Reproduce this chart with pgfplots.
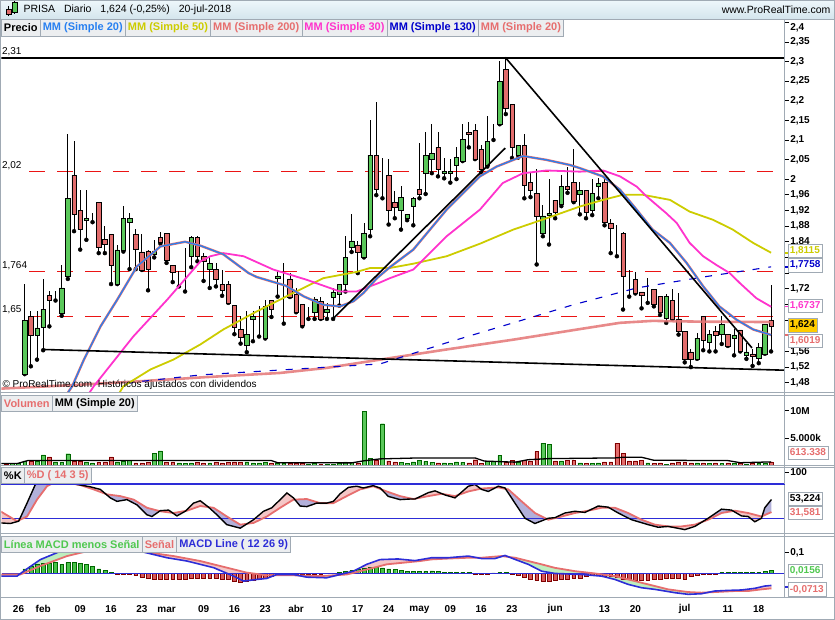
\documentclass[border=0pt]{standalone}
\usepackage{fontspec}
\setmainfont{Liberation Sans}
\usepackage{pgfplots}
\usepackage{pgfplotstable}
\pgfplotsset{compat=1.18}
\usepgfplotslibrary{fillbetween}

\definecolor{cgreen}{RGB}{90,200,90}
\definecolor{cred}{RGB}{226,108,108}
\definecolor{mm20}{RGB}{40,128,240}
\definecolor{mm50}{RGB}{204,204,0}
\definecolor{mm200}{RGB}{228,118,118}
\definecolor{mm30}{RGB}{255,51,204}
\definecolor{mm130}{RGB}{0,0,204}
\definecolor{salmon}{RGB}{230,110,110}
\definecolor{frame}{RGB}{160,170,180}
\definecolor{boxbg}{RGB}{236,238,240}
\definecolor{lav}{RGB}{178,176,218}
\definecolor{pinkf}{RGB}{244,198,198}
\definecolor{greenf}{RGB}{190,238,190}
\definecolor{hgreen}{RGB}{70,195,70}
\definecolor{hred}{RGB}{215,88,88}
\definecolor{stblue}{RGB}{45,45,215}
\definecolor{lvred}{RGB}{235,20,20}
\definecolor{hdtop}{RGB}{238,247,251}
\definecolor{hdbot}{RGB}{212,229,237}
\definecolor{legreen}{RGB}{80,200,80}
\definecolor{gold}{RGB}{255,204,0}

\newcommand{\lab}{\fontsize{10}{11}\selectfont\bfseries}
\newcommand{\leg}{\fontsize{11}{12}\selectfont\bfseries}

% daily candles, n = trading day after 26 Jan 2018
\pgfplotstableread{
n o h l c
1 1.502 1.732 1.502 1.640
2 1.650 1.662 1.522 1.602
3 1.602 1.662 1.539 1.620
4 1.622 1.744 1.563 1.668
5 1.704 1.713 1.624 1.691
6 1.702 1.713 1.690 1.702
7 1.657 1.780 1.651 1.722
8 1.753 2.115 1.745 1.951
9 2.010 2.098 1.867 1.909
10 1.921 1.972 1.820 1.871
11 1.895 1.972 1.845 1.900
12 1.900 1.913 1.890 1.900
13 1.941 1.941 1.811 1.826
14 1.847 1.879 1.811 1.834
15 1.858 1.858 1.732 1.780
16 1.732 1.831 1.732 1.819
17 1.819 1.932 1.815 1.900
18 1.890 1.913 1.770 1.900
19 1.858 1.872 1.770 1.821
20 1.814 1.860 1.768 1.768
21 1.817 1.820 1.716 1.770
22 1.807 1.845 1.800 1.817
23 1.852 1.864 1.835 1.840
24 1.862 1.862 1.786 1.793
25 1.780 1.780 1.737 1.763
26 1.764 1.766 1.726 1.764
27 1.823 1.825 1.713 1.823
28 1.802 1.855 1.775 1.852
29 1.852 1.855 1.790 1.802
30 1.803 1.811 1.740 1.791
31 1.770 1.803 1.722 1.785
32 1.770 1.786 1.726 1.743
33 1.732 1.769 1.702 1.717
34 1.732 1.739 1.684 1.684
35 1.678 1.678 1.604 1.622
36 1.616 1.650 1.580 1.597
37 1.576 1.662 1.558 1.603
38 1.643 1.662 1.586 1.650
39 1.655 1.675 1.598 1.655
40 1.593 1.692 1.593 1.675
41 1.690 1.692 1.648 1.668
42 1.746 1.769 1.700 1.753
43 1.753 1.786 1.631 1.753
44 1.745 1.760 1.699 1.699
45 1.705 1.722 1.660 1.660
46 1.681 1.681 1.624 1.627
47 1.660 1.673 1.643 1.660
48 1.660 1.700 1.643 1.694
49 1.688 1.700 1.643 1.643
50 1.660 1.683 1.643 1.667
51 1.699 1.722 1.643 1.712
52 1.706 1.732 1.677 1.732
53 1.732 1.854 1.713 1.801
54 1.826 1.912 1.814 1.842
55 1.832 1.842 1.760 1.814
56 1.801 1.887 1.800 1.862
57 1.872 2.151 1.854 2.061
58 2.061 2.197 1.959 1.974
59 2.001 2.054 1.951 2.001
60 2.010 2.051 1.884 1.921
61 1.941 1.970 1.900 1.928
62 1.921 1.983 1.871 1.954
63 1.900 1.911 1.895 1.910
64 1.931 1.954 1.882 1.951
65 1.974 2.093 1.951 1.962
66 2.015 2.120 1.962 2.061
67 2.051 2.140 2.015 2.066
68 2.081 2.120 2.007 2.025
69 2.015 2.054 2.002 2.020
70 2.015 2.051 1.991 2.020
71 2.036 2.081 2.000 2.056
72 2.046 2.140 2.046 2.102
73 2.120 2.146 2.081 2.115
74 2.125 2.140 2.051 2.051
75 2.076 2.087 2.017 2.025
76 2.036 2.160 2.032 2.097
77 2.115 2.140 2.100 2.115
78 2.140 2.301 2.140 2.250
79 2.280 2.310 2.166 2.180
80 2.191 2.191 2.054 2.081
81 2.061 2.087 2.055 2.087
82 2.087 2.115 1.951 1.985
83 1.992 2.015 1.954 1.972
84 1.964 2.025 1.782 1.906
85 1.862 1.934 1.854 1.906
86 1.908 2.000 1.833 1.913
87 1.946 1.946 1.900 1.916
88 1.936 2.011 1.931 1.982
89 1.982 2.030 1.965 1.974
90 1.992 2.076 1.941 1.944
91 1.962 1.992 1.910 1.972
92 1.972 1.972 1.900 1.916
93 1.921 2.000 1.908 1.964
94 1.982 2.002 1.951 1.990
95 1.992 2.002 1.882 1.890
96 1.888 1.898 1.811 1.875
97 1.874 1.882 1.803 1.874
98 1.862 1.866 1.667 1.752
99 1.723 1.769 1.700 1.723
100 1.743 1.763 1.708 1.708
101 1.712 1.712 1.670 1.704
102 1.707 1.747 1.684 1.707
103 1.719 1.719 1.675 1.681
104 1.701 1.701 1.653 1.661
105 1.645 1.706 1.633 1.701
106 1.691 1.719 1.643 1.643
107 1.643 1.709 1.603 1.612
108 1.612 1.612 1.532 1.541
109 1.559 1.565 1.520 1.541
110 1.541 1.607 1.541 1.594
111 1.650 1.650 1.563 1.589
112 1.584 1.615 1.560 1.604
113 1.612 1.626 1.560 1.602
114 1.604 1.650 1.579 1.630
115 1.604 1.604 1.574 1.574
116 1.594 1.617 1.550 1.602
117 1.615 1.615 1.560 1.560
118 1.551 1.582 1.541 1.559
119 1.554 1.565 1.523 1.548
120 1.543 1.582 1.530 1.571
121 1.554 1.630 1.554 1.630
122 1.640 1.729 1.560 1.624
}\candles

% volume in millions, g=1 green bar
\pgfplotstableread{
n v g
-2 0.25 0
-1 0.3 1
0 0.35 1
1 0.8 1
2 0.7 0
3 0.8 1
4 1.9 1
5 1.5 0
6 0.6 1
7 0.5 1
8 2.1 1
9 0.8 0
10 0.8 0
11 0.5 1
12 0.4 1
13 0.5 0
14 0.6 0
15 1.5 0
16 0.6 1
17 0.7 1
18 0.9 1
19 0.4 0
20 0.4 0
21 0.5 0
22 2.2 1
23 2.6 1
24 0.5 0
25 0.6 0
26 0.4 1
27 0.3 1
28 0.4 1
29 0.5 0
30 0.4 0
31 0.4 1
32 0.5 0
33 0.4 0
34 0.5 0
35 0.6 0
36 0.5 0
37 0.6 1
38 0.4 1
39 0.4 1
40 0.5 1
41 0.4 0
42 0.3 1
43 0.4 1
44 0.4 0
45 0.3 0
46 0.3 0
47 0.2 1
48 0.3 1
49 0.2 0
50 0.2 1
51 0.2 1
52 0.3 1
53 0.6 1
54 0.5 1
55 0.4 0
56 9.9 1
57 1.2 1
58 1.0 0
59 7.6 1
60 0.8 0
61 0.6 0
62 0.5 1
63 0.3 1
64 0.6 1
65 0.9 1
66 0.7 1
67 0.5 1
68 0.4 0
69 0.4 1
70 0.3 1
71 0.6 1
72 0.5 1
73 0.4 0
74 1.0 0
75 0.3 0
76 0.7 1
77 0.8 1
78 1.75 1
79 0.6 0
80 0.9 0
81 0.5 1
82 0.9 0
83 0.7 0
84 2.5 0
85 4.0 1
86 3.8 1
87 0.8 0
88 0.8 1
89 0.9 0
90 0.9 0
91 0.4 1
92 0.3 0
93 0.3 1
94 0.4 1
95 0.6 0
96 0.6 0
97 4.0 0
98 2.2 0
99 0.8 0
100 0.8 0
101 0.9 0
102 0.4 1
103 0.3 0
104 0.4 0
105 0.2 1
106 0.4 0
107 0.5 0
108 0.5 0
109 0.4 0
110 0.4 1
111 0.4 0
112 0.3 1
113 0.4 0
114 0.3 1
115 0.4 0
116 0.3 1
117 0.4 0
118 0.2 1
119 0.3 0
120 0.3 1
121 0.4 1
122 0.61 0
}\volume

\pgfplotstableread{
n v
-2.94 13
-1.32 12
0.03 16
1.38 47
2.73 79
4.08 82
5.7 88
7.86 85
9.48 79
11.64 75
13.26 70.5
14.88 56
15.96 50
17.58 53
19.2 44
20.82 27
21.63 24
22.98 34
24.33 35
25.68 25
27.03 33
28.38 47
29.46 51
30.81 40
32.16 27
33.78 10
35.94 4
38.1 18.5
39.72 33
41.07 39
42.42 53
43.5 64.5
44.57 56
45.65 42
46.73 41
48.35 47
49.97 47
51.05 50
52.13 63
53.48 74
54.83 76
55.9 73
57.5 77
58.6 73
59.96 58.5
61.85 53
63.47 54
64.28 54
66.44 65
67.52 68
69.14 61
70.76 56
72.92 76
74.0 79
75.08 70.5
76.16 67
77.78 76
78.86 73
80.48 47
82.1 21
83.72 12
85.88 21
86.96 22
88.58 30
90.2 33
91.82 31
93.98 42
95.6 40
97.22 30
99.38 18.5
102.08 10
103.7 5.5
105.32 7
108.02 1.5
109.64 7
111.8 21
113.96 36.6
115.58 35
117.2 25
118.28 24
119.36 15
120.44 21
120.98 39
122.06 53.2
}\stK

\pgfplotstableread{
n v
-2.94 33
-0.24 16
1.38 24
3.0 53
4.62 76
6.24 85
7.86 82
10.02 78
12.18 70.5
14.34 62
16.5 59
18.66 53
20.82 39
22.98 33
25.14 30
27.3 34
29.46 42
31.62 39
33.78 24
35.94 10
38.1 13
40.26 24
42.42 39
44.57 53
46.73 54
48.89 47
51.05 47
53.21 59
55.37 70.5
57.5 76
59.69 67
61.85 59
64.0 54
66.44 59
68.6 63
70.76 59
72.92 67
75.08 72
77.78 74
79.4 70.5
81.56 50
83.72 30
85.88 18.5
88.04 24
90.2 30
92.36 34
94.52 39
96.68 39
98.84 30
101.0 18.5
103.16 10
105.32 7
107.48 7
109.64 10
111.8 18.5
113.96 30
116.12 34
118.28 30
120.44 24
122.06 31.6
}\stD

\pgfplotstableread{
n v
-2.94 -0.013
-0.24 -0.013
0.84 0.011
3.54 0.067
6.78 0.107
10.56 0.131
14 0.142
17 0.130
19.74 0.107
24.06 0.076
27.3 0.060
31.62 0.028
34.86 -0.013
36.48 -0.037
38.64 -0.029
40.26 -0.024
41.88 -0.005
44.57 -0.005
46.73 -0.018
49.97 -0.021
52.13 -0.005
54.29 0.011
56.45 0.044
58.6 0.067
61.5 0.070
64.28 0.062
66.98 0.076
69.68 0.076
72.92 0.084
75.08 0.072
77.24 0.072
78.86 0.087
80.48 0.068
82.64 0.044
84.8 0.011
86.96 0.000
91.28 -0.005
94.52 -0.013
96.68 -0.029
98.84 -0.053
101.0 -0.069
103.16 -0.077
106.4 -0.093
108.56 -0.101
110.72 -0.098
112.88 -0.085
115.04 -0.082
117.2 -0.080
119.36 -0.072
120.98 -0.061
122.06 -0.058
}\macd

\pgfplotstableread{
n v
-2.94 -0.005
0.3 -0.005
3.54 0.036
7.86 0.084
12.18 0.115
15.5 0.124
19.74 0.107
25.14 0.084
29.46 0.060
33.78 0.028
37.0 0.004
40.26 -0.009
44.57 -0.009
48.89 -0.013
53.21 -0.005
56.45 0.019
59.69 0.044
65.09 0.060
66.98 0.068
69.68 0.072
72.92 0.076
75.08 0.076
78.32 0.084
80.48 0.076
82.64 0.060
84.8 0.044
86.96 0.027
90.2 0.011
93.44 0.000
96.68 -0.013
98.84 -0.029
102.08 -0.053
105.32 -0.077
108.56 -0.090
110.72 -0.093
112.88 -0.090
116.12 -0.085
118.28 -0.085
120.44 -0.077
122.06 -0.072
}\signal

\pgfplotstableread{
n h
-2 -0.006
-1 -0.006
0 -0.006
1 0.022
2 0.035
3 0.043
4 0.048
5 0.048
6 0.052
7 0.045
8 0.052
9 0.052
10 0.048
11 0.043
12 0.035
13 0.022
14 0.014
15 0.006
16 -0.003
17 -0.002
18 -0.005
19 -0.010
20 -0.016
21 -0.024
22 -0.026
23 -0.026
24 -0.026
25 -0.029
26 -0.029
27 -0.026
28 -0.023
29 -0.021
30 -0.021
31 -0.021
32 -0.023
33 -0.026
34 -0.029
35 -0.037
36 -0.042
37 -0.039
38 -0.034
39 -0.026
40 -0.021
41 -0.013
42 -0.006
43 -0.003
44 -0.002
45 -0.002
46 -0.003
47 -0.003
48 -0.002
49 -0.002
50 -0.001
51 0.002
52 0.005
53 0.010
54 0.014
55 0.019
56 0.026
57 0.031
58 0.032
59 0.027
60 0.022
61 0.019
62 0.014
63 0.010
64 0.010
65 0.010
66 0.010
67 0.013
68 0.010
69 0.005
70 0.005
71 0.005
72 0.005
73 0.005
74 -0.005
75 -0.005
76 -0.005
77 0.003
78 0.005
79 0.005
80 -0.003
81 -0.008
82 -0.016
83 -0.026
84 -0.035
85 -0.037
86 -0.039
87 -0.034
88 -0.029
89 -0.026
90 -0.023
91 -0.021
92 -0.013
93 -0.010
94 -0.008
95 -0.013
96 -0.013
97 -0.018
98 -0.026
99 -0.029
100 -0.032
101 -0.032
102 -0.032
103 -0.029
104 -0.026
105 -0.023
106 -0.023
107 -0.023
108 -0.026
109 -0.013
110 -0.008
111 -0.005
112 -0.005
113 -0.002
114 0.005
115 0.005
116 0.005
117 0.005
118 0.005
119 0.005
120 0.005
121 0.010
122 0.0156
}\hist

\pgfplotsset{
  panel/.style={scale only axis, anchor=south west, width=784pt, xmin=-2.775, xmax=124.2},
  pricepanel/.style={panel, at={(1pt,227pt)}, height=374pt, ymin=1.4548, ymax=2.4089},
  rightaxis/.style={axis x line=none, axis y line*=right, y axis line style={draw=frame},
    tick align=outside, major tick length=4pt, ytick style={black, line width=0.6pt},
    yticklabel style={font=\lab, inner sep=1.5pt}},
}

\begin{document}
\begin{tikzpicture}
\begin{scope}[x=1pt,y=1pt]
\useasboundingbox (0,0) rectangle (835,620);
\end{scope}

% ---- price panel: levels and wicks
\begin{axis}[pricepanel, rightaxis,
  ytick={1.48,1.52,1.56,1.6,1.64,1.68,1.72,1.76,1.8,1.84,1.88,1.92,1.96,2,2.05,2.1,2.15,2.2,2.25,2.3,2.35,2.4},
  yticklabels={{1,48},{1,52},{1,56},{},{},{},{1,72},{},{},{1,84},{1,88},{1,92},{1,96},{2},{2,05},{2,1},{2,15},{2,2},{2,25},{2,3},{2,35},{\smash{\raisebox{-8.5pt}{2,4}}}}]
\addplot[black, line width=1.8pt] coordinates {(-3,2.31) (125,2.31)};
\addplot[lvred, line width=1pt, dash pattern=on 16pt off 12pt] coordinates {(1.76,2.02) (125,2.02)};
\addplot[lvred, line width=1pt, dash pattern=on 16pt off 12pt] coordinates {(1.76,1.764) (125,1.764)};
\addplot[lvred, line width=1pt, dash pattern=on 16pt off 12pt] coordinates {(1.76,1.65) (125,1.65)};
\addplot[only marks, mark=none, error bars/.cd, y dir=plus, y explicit, error mark=none,
  error bar style={black, line width=0.8pt}]
  table[x=n, y=l, y error expr=\thisrow{h}-\thisrow{l}] {\candles};
\end{axis}

% ---- candle bodies
\begin{axis}[pricepanel, hide axis, ybar stacked, bar width=0.72]
\addplot[draw=none, fill=none] table[x=n, y expr={min(\thisrow{o},\thisrow{c})}] {\candles};
\addplot[draw=black, line width=0.5pt, fill=cgreen] table[x=n, y expr={max(\thisrow{c}-\thisrow{o},0)}] {\candles};
\addplot[draw=black, line width=0.5pt, fill=cred] table[x=n, y expr={max(\thisrow{o}-\thisrow{c},0)}] {\candles};
\end{axis}

% ---- moving averages and trend lines
\begin{axis}[pricepanel, hide axis]
\addplot[mm200, opacity=0.85, line width=2.6pt] coordinates {
(-2.8,1.465) (10,1.475) (20,1.484) (30,1.494) (42.4,1.505) (50,1.518) (58.6,1.539) (69.4,1.565)
(80.2,1.590) (91,1.617) (97.5,1.633) (102.8,1.638) (110.4,1.636) (122,1.635)};
\addplot[mm130, line width=1.1pt, dash pattern=on 7pt off 9pt] coordinates {
(17.5,1.478) (20.2,1.484) (29.5,1.500) (44.0,1.514) (58.6,1.528) (69.4,1.582) (80.2,1.633)
(89.9,1.679) (100.2,1.722) (111.0,1.750) (122,1.776)};
\addplot[mm50, line width=1.8pt] coordinates {
(16.2,1.45) (17.0,1.471) (21.4,1.514) (25.1,1.539) (29.5,1.578) (33.2,1.616) (38.6,1.662)
(44.0,1.705) (49.4,1.747) (54.8,1.763) (57.0,1.773) (60.2,1.773) (64.0,1.784) (69.4,1.803)
(74.8,1.835) (80.2,1.871) (85.6,1.900) (91.0,1.930) (94.8,1.947) (98.0,1.960) (101.2,1.960)
(105.6,1.947) (108.8,1.917) (112.6,1.896) (115.8,1.871) (119.1,1.837) (122,1.812)};
\addplot[mm30, line width=1.8pt] coordinates {
(11.3,1.45) (12.2,1.471) (18.6,1.598) (24.1,1.692) (29.5,1.790) (31.1,1.803) (33.2,1.811)
(36.5,1.803) (41.3,1.769) (46.7,1.743) (52.1,1.713) (54.8,1.713) (58.6,1.736) (60.2,1.747)
(64.0,1.769) (69.4,1.854) (74.8,1.922) (78.5,1.990) (81.8,2.015) (85.6,2.022) (91.0,2.019)
(94.8,2.022) (97.5,2.007) (100.2,1.981) (101.8,1.956) (105.0,1.913) (106.7,1.888) (108.8,1.837)
(111.0,1.803) (113.1,1.781) (115.3,1.760) (116.9,1.735) (119.6,1.696) (122,1.674)};
\addplot[salmon, line width=2.4pt] coordinates {
(7.8,1.45) (8.7,1.471) (10.6,1.539) (13.3,1.624) (16.0,1.692) (19.2,1.777) (23.0,1.828)
(27.0,1.840) (29.5,1.830) (33.2,1.808) (37.3,1.760) (38.6,1.750) (43.3,1.728) (46.3,1.700)
(49.4,1.679) (52.1,1.675) (54.3,1.688) (55.9,1.709) (58.1,1.747) (60.2,1.775) (64.0,1.820)
(69.4,1.922) (74.8,2.007) (77.5,2.032) (81.8,2.059) (85.6,2.049) (89.4,2.036) (91.0,2.028)
(94.7,2.007) (97.5,1.973) (100.2,1.922) (102.8,1.871) (105.6,1.837) (108.3,1.786) (111.0,1.726)
(113.6,1.675) (116.4,1.641) (119.1,1.616) (122,1.602)};
\addplot[mm20, line width=1.3pt] coordinates {
(7.8,1.45) (8.7,1.471) (10.6,1.539) (13.3,1.624) (16.0,1.692) (19.2,1.777) (23.0,1.828)
(27.0,1.840) (29.5,1.830) (33.2,1.808) (37.3,1.760) (38.6,1.750) (43.3,1.728) (46.3,1.700)
(49.4,1.679) (52.1,1.675) (54.3,1.688) (55.9,1.709) (58.1,1.747) (60.2,1.775) (64.0,1.820)
(69.4,1.922) (74.8,2.007) (77.5,2.032) (81.8,2.059) (85.6,2.049) (89.4,2.036) (91.0,2.028)
(94.7,2.007) (97.5,1.973) (100.2,1.922) (102.8,1.871) (105.6,1.837) (108.3,1.786) (111.0,1.726)
(113.6,1.675) (116.4,1.641) (119.1,1.616) (122,1.602)};
\addplot[black, line width=1.6pt] coordinates {(3.87,1.565) (124.2,1.512)};
\addplot[black, line width=1.6pt] coordinates {(50.95,1.643) (78.9,2.079)};
\addplot[black, line width=1.6pt] coordinates {(78.9,2.311) (118.9,1.569)};
\end{axis}

% ---- volume
\begin{axis}[panel, rightaxis, at={(1pt,154pt)}, height=70pt, ymin=-0.07, ymax=12.75,
  ytick={5,10}, yticklabels={{5.000k},{10M}}]
\addplot[ybar, bar width=0.62, bar shift=0pt, fill=cgreen, draw=black!60!green, line width=0.4pt,
  restrict expr to domain={\thisrow{g}}{1:1}] table[x=n, y=v] {\volume};
\addplot[ybar, bar width=0.62, bar shift=0pt, fill=cred, draw=black!50!red, line width=0.4pt,
  restrict expr to domain={\thisrow{g}}{0:0}] table[x=n, y=v] {\volume};
\addplot[black, line width=1.3pt] coordinates {
(-2.8,0.29) (-0.2,0.3) (1.5,0.84) (41,0.84) (42,0.45) (54,0.42) (56,0.8) (58.6,1.15) (64,1.3)
(74,1.33) (75.5,0.75) (80.5,0.55) (82.6,1.0) (86,1.2) (96.7,1.33) (98,1.45) (101,1.45) (103,0.9)
(115,0.84) (117,0.45) (122,0.6)};
\end{axis}

% ---- stochastic
\begin{axis}[panel, rightaxis, at={(1pt,86pt)}, height=66pt, ymin=-5.15, ymax=108.06,
  ytick={100,500}, yticklabels={100,{}}]
\addplot[draw=none, name path=K] table[x=n, y=v] {\stK};
\addplot[draw=none, name path=D] table[x=n, y=v] {\stD};
\addplot[fill=pinkf, draw=none] fill between[of=K and D, split,
  every even segment/.style={fill=pinkf}, every odd segment/.style={fill=lav}];
\addplot[stblue, line width=0.8pt] coordinates {(-2.7,80) (124.1,80)};
\addplot[stblue, line width=0.8pt] coordinates {(-2.7,20) (124.1,20)};
\addplot[salmon, line width=1.8pt] table[x=n, y=v] {\stD};
\addplot[black, line width=1.4pt] table[x=n, y=v] {\stK};
\end{axis}

% ---- MACD
\begin{axis}[panel, rightaxis, at={(1pt,22pt)}, height=61pt, ymin=-0.1159, ymax=0.1787,
  ytick={0.1,5}, yticklabels={{0,1},{}}]
\addplot[draw=none, name path=M] table[x=n, y=v] {\macd};
\addplot[draw=none, name path=S] table[x=n, y=v] {\signal};
\addplot[fill=pinkf, draw=none] fill between[of=M and S, split,
  every even segment/.style={fill=pinkf}, every odd segment/.style={fill=greenf}];
\addplot[ybar, bar width=0.62, bar shift=0pt, fill=hgreen, draw=black!60!green, line width=0.4pt,
  restrict y to domain=0.0001:1] table[x=n, y=h] {\hist};
\addplot[ybar, bar width=0.62, bar shift=0pt, fill=hred, draw=black!50!red, line width=0.4pt,
  restrict y to domain=-1:-0.0001] table[x=n, y=h] {\hist};
\addplot[stblue, line width=0.9pt] coordinates {(-2.7,0) (124.1,0)};
\addplot[salmon, line width=1.8pt] table[x=n, y=v] {\signal};
\addplot[stblue, line width=1.6pt] table[x=n, y=v] {\macd};
\end{axis}

\begin{scope}[x=1pt,y=1pt]
% header
\shade[top color=hdtop, bottom color=hdbot] (0,601) rectangle (835,620);
\draw[black, line width=0.5pt] (8,603.5)--(8,613.5);
\filldraw[fill=cred, draw=black, line width=0.4pt] (5.5,605.5) rectangle (10.5,611);
\draw[black, line width=0.5pt] (14,606)--(14,619);
\filldraw[fill=cgreen, draw=black, line width=0.4pt] (11.5,608) rectangle (16.5,618);
\node[anchor=west, font=\fontsize{10.5}{12}\selectfont, inner sep=0pt] at (23,610.5)
  {PRISA\hspace{9pt}Diario\hspace{9pt}1,624 (-0,25\%)\hspace{9pt}20-jul-2018};
\node[anchor=east, font=\fontsize{10.5}{12}\selectfont, inner sep=0pt] at (831,610.5) {www.ProRealTime.com};

% frames
\draw[frame, line width=0.8pt] (0.4,0.4) rectangle (834.6,619.6);
\foreach \yy in {601,227,224,154,152,86,83,22} \draw[frame, line width=0.8pt] (0,\yy) -- (835,\yy);
\draw[frame, line width=0.8pt] (785,22) -- (785,601);
% stochastic upper band
\draw[stblue, line width=0.8pt] (1,135.6) -- (785,135.6);

% level labels
\node[anchor=south west, font=\fontsize{10}{11}\selectfont, inner sep=0.5pt] at (1,563) {2,31};
\node[anchor=south west, font=\fontsize{10}{11}\selectfont, inner sep=0.5pt] at (1,449.5) {2,02};
\node[anchor=south west, font=\fontsize{10}{11}\selectfont, inner sep=0.5pt] at (1,349.5) {1,764};
\node[anchor=south west, font=\fontsize{10}{11}\selectfont, inner sep=0.5pt] at (1,305) {1,65};
\node[anchor=west, font=\fontsize{10}{11}\selectfont, inner sep=0pt] at (2,234.5)
  {© ProRealTime.com\ \ Históricos ajustados con dividendos};

% legend boxes
\tikzset{lb/.style={draw=frame, fill=boxbg, font=\leg, inner xsep=2.6pt, inner ysep=0pt,
  minimum height=17pt, anchor=north west, outer sep=0pt},
  lbs/.style={lb, minimum height=15.5pt}}
\node[lb, text=black] (p0) at (1,601) {Precio};
\node[lb, text=mm20] (p1) at (p0.north east) {MM (Simple 20)};
\node[lb, text=mm50] (p2) at (p1.north east) {MM (Simple 50)};
\node[lb, text=salmon] (p3) at (p2.north east) {MM (Simple 200)};
\node[lb, text=mm30] (p4) at (p3.north east) {MM (Simple 30)};
\node[lb, text=mm130] (p5) at (p4.north east) {MM (Simple 130)};
\node[lb, text=salmon] (p6) at (p5.north east) {MM (Simple 20)};
\node[lbs, text=salmon] (v0) at (1,224) {Volumen};
\node[lbs, text=black] (v1) at (v0.north east) {MM (Simple 20)};
\node[lbs, text=black] (s0) at (1,152) {\%K};
\node[lbs, text=salmon] (s1) at (s0.north east) {\%D ( 14 3 5)};
\node[lbs, text=legreen] (m0) at (1,83) {Línea MACD menos Señal};
\node[lbs, text=salmon] (m1) at (m0.north east) {Señal};
\node[lbs, text=stblue] (m2) at (m1.north east) {MACD Line ( 12 26 9)};

% current value boxes
\tikzset{vb/.style={draw=frame, fill=white, font=\lab, inner xsep=2pt, inner ysep=0pt,
  minimum height=13.5pt, anchor=west}}
\draw[mm50, line width=1.2pt] (785,366.8) -- (789,366.8);
\draw[mm130, line width=1.2pt] (785,352.8) -- (789,352.8);
\draw[mm30, line width=1.2pt] (785,312.8) -- (789,312.8);
\draw[salmon, line width=1.2pt] (785,284.6) -- (789,284.6);
\draw[stblue, line width=1.2pt] (785,32.5) -- (789,32.5);
\node[vb, text=mm50] at (788,369) {1,8115};
\node[vb, text=mm130] at (788,354.5) {1,7758};
\node[vb, text=mm30] at (788,314) {1,6737};
\node[vb, text=black, fill=gold] at (788,294.5) {1,624};
\node[vb, text=salmon] at (788,279) {1,6019};
\node[vb, text=salmon] at (788,167) {613.338};
\node[vb, text=black] at (788,121) {53,224};
\node[vb, text=salmon] at (788,107) {31,581};
\node[vb, text=legreen] at (788,49) {0,0156};
\node[vb, text=salmon] at (788,30) {-0,0713};

% date labels
\foreach \n/\t in {0/26, 4/feb, 10/09, 15/16, 20/23, 24/mar, 30/09, 35/16, 40/23, 45/abr,
  50/10, 55/17, 60/24, 65/may, 70/09, 75/16, 80/23, 87/jun, 95/13, 100/20, 108/jul, 115/11, 120/18}
  \node[font=\lab, inner sep=0pt] at ({18.13+6.174*\n},10) {\t};
\end{scope}
\end{tikzpicture}
\end{document}
